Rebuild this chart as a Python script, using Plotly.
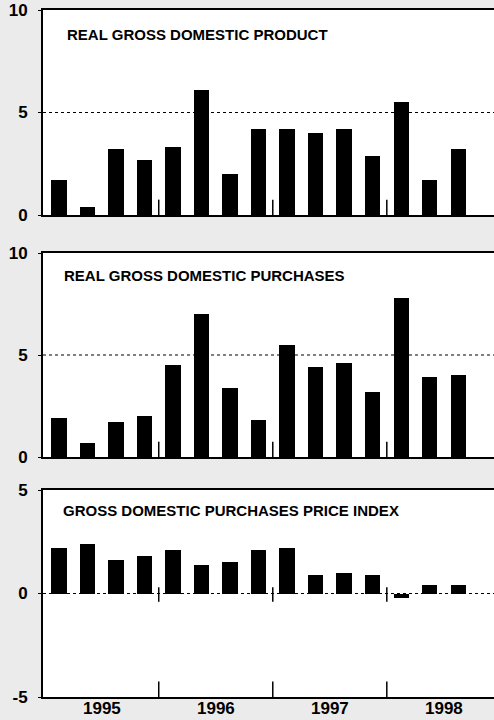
import plotly.graph_objects as go

quarters = ["1995Q1", "1995Q2", "1995Q3", "1995Q4",
            "1996Q1", "1996Q2", "1996Q3", "1996Q4",
            "1997Q1", "1997Q2", "1997Q3", "1997Q4",
            "1998Q1", "1998Q2", "1998Q3"]
gdp = [1.7, 0.4, 3.2, 2.7, 3.3, 6.1, 2.0, 4.2, 4.2, 4.0, 4.2, 2.9, 5.5, 1.7, 3.2]
purchases = [1.9, 0.7, 1.7, 2.0, 4.5, 7.0, 3.4, 1.8, 5.5, 4.4, 4.6, 3.2, 7.8, 3.9, 4.0]
price_index = [2.2, 2.4, 1.6, 1.8, 2.1, 1.4, 1.5, 2.1, 2.2, 0.9, 1.0, 0.9, -0.2, 0.4, 0.4]

titles = ["REAL GROSS DOMESTIC PRODUCT",
          "REAL GROSS DOMESTIC PURCHASES",
          "GROSS DOMESTIC PURCHASES PRICE INDEX"]
year_labels = ["1995", "1996", "1997", "1998"]
year_ticks = [1.5, 5.5, 9.5, 13.5]
year_breaks = [3.5, 7.5, 11.5]

W, H = 494, 720
panels = [
    dict(vals=gdp, top=10, bottom=215, rng=[0, 10], tv=[0, 5, 10], grid=5, title_y=34, title_x=65),
    dict(vals=purchases, top=253, bottom=457, rng=[0, 10], tv=[0, 5, 10], grid=5, title_y=275, title_x=62),
    dict(vals=price_index, top=490, bottom=697, rng=[-5, 5], tv=[-5, 0, 5], grid=0, title_y=510, title_x=61),
]

x_idx = list(range(len(quarters)))
xrange = [-0.56, 15.26]
fig = go.Figure()
FONT = "Liberation Sans, Arial, Helvetica, sans-serif"

for i, p in enumerate(panels, start=1):
    xa = "x" if i == 1 else f"x{i}"
    ya = "y" if i == 1 else f"y{i}"
    fig.add_trace(go.Bar(x=x_idx, y=p["vals"], xaxis=xa, yaxis=ya,
                         marker=dict(color="black", line=dict(width=0)),
                         width=0.53, showlegend=False, hoverinfo="skip"))
    dom = [1 - p["bottom"] / H, 1 - p["top"] / H]
    xkey = "xaxis" if i == 1 else f"xaxis{i}"
    ykey = "yaxis" if i == 1 else f"yaxis{i}"
    fig.update_layout(**{xkey: dict(
        domain=[43 / W, 1.0], range=xrange, anchor=ya,
        showline=True, linecolor="black", linewidth=2, mirror=True,
        showgrid=False, zeroline=False, ticks="", automargin=False,
        showticklabels=False, fixedrange=True)})
    fig.update_layout(**{ykey: dict(
        domain=dom, range=p["rng"], anchor=xa,
        tickmode="array", tickvals=p["tv"], ticktext=[str(v) for v in p["tv"]],
        tickfont=dict(family=FONT, size=17, color="black", weight="bold"),
        ticks="outside", ticklen=3, tickcolor="black", tickwidth=1,
        ticklabelstandoff=7, automargin=False,
        showline=True, linecolor="black", linewidth=2, mirror=False,
        showgrid=False, zeroline=False, fixedrange=True)})
    # dotted reference line
    fig.add_shape(type="line", xref=xa, yref=ya, x0=xrange[0], x1=xrange[1],
                  y0=p["grid"], y1=p["grid"],
                  line=dict(color="black", width=1, dash="dot"), layer="below")
    # year divider ticks
    for b in year_breaks:
        fig.add_shape(type="line", xref=xa, yref=f"{ya} domain", x0=b, x1=b,
                      y0=0, y1=0.075, line=dict(color="black", width=1.5))
        if i == 3:
            fig.add_shape(type="line", xref=xa, yref=ya, x0=b, x1=b,
                          y0=-0.4, y1=0.3, line=dict(color="black", width=1.5))
    fig.add_annotation(text=titles[i - 1], xref="paper", yref="paper",
                       x=p["title_x"] / W, y=1 - p["title_y"] / H,
                       xanchor="left", yanchor="middle", showarrow=False,
                       font=dict(family=FONT, size=15, color="black", weight="bold"))

# year labels under the bottom panel
for xv, lab in zip(year_ticks, year_labels):
    fig.add_annotation(text=lab, xref="x3", yref="paper", x=xv, y=1 - 708 / H,
                       xanchor="center", yanchor="middle", showarrow=False,
                       font=dict(family=FONT, size=17, color="black", weight="bold"))

fig.update_layout(width=W, height=H, margin=dict(l=0, r=0, t=0, b=0, autoexpand=False),
                  paper_bgcolor="#ebebeb", plot_bgcolor="white",
                  bargap=0, font=dict(family=FONT, color="black"))
fig.write_html("out.html", config={"displayModeBar": False},
               post_script="document.body.style.margin='0';document.body.style.overflow='hidden';")
